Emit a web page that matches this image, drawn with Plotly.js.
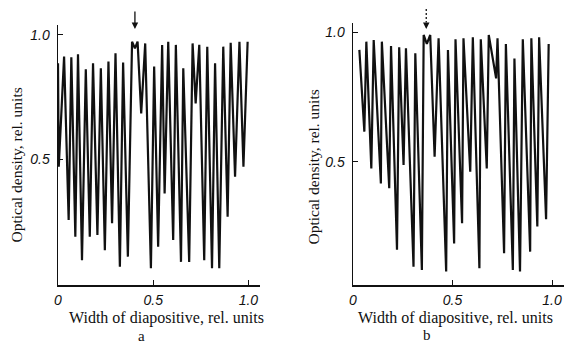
<!DOCTYPE html>
<html>
<head>
<meta charset="utf-8">
<script src="https://cdn.plot.ly/plotly-3.0.1.min.js"></script>
<style>html,body{margin:0;padding:0;background:#fff;}#chart{width:564px;height:346px;}</style>
</head>
<body>
<div id="chart"></div>
<script>
// Panel a: optical density profile
var xA = [0.000, 0.004, 0.032, 0.056, 0.070, 0.091, 0.105, 0.126, 0.146, 0.167, 0.184, 0.207, 0.225, 0.246, 0.265, 0.284, 0.302, 0.325, 0.342, 0.367, 0.389, 0.404, 0.418, 0.437, 0.458, 0.488, 0.505, 0.526, 0.547, 0.560, 0.579, 0.605, 0.619, 0.646, 0.658, 0.689, 0.707, 0.723, 0.742, 0.768, 0.784, 0.809, 0.825, 0.847, 0.868, 0.891, 0.907, 0.930, 0.953, 0.974, 0.996];
var yA = [0.886, 0.470, 0.913, 0.256, 0.910, 0.189, 0.922, 0.095, 0.862, 0.189, 0.886, 0.196, 0.866, 0.135, 0.893, 0.243, 0.926, 0.068, 0.889, 0.109, 0.973, 0.946, 0.973, 0.685, 0.966, 0.062, 0.873, 0.149, 0.960, 0.363, 0.973, 0.176, 0.960, 0.088, 0.866, 0.088, 0.966, 0.725, 0.960, 0.095, 0.953, 0.062, 0.886, 0.062, 0.953, 0.269, 0.969, 0.430, 0.973, 0.470, 0.973];

// Panel b
var xB = [0.032, 0.057, 0.067, 0.092, 0.104, 0.140, 0.145, 0.182, 0.191, 0.221, 0.232, 0.254, 0.266, 0.304, 0.313, 0.346, 0.355, 0.371, 0.388, 0.410, 0.430, 0.468, 0.477, 0.508, 0.515, 0.548, 0.555, 0.589, 0.602, 0.635, 0.642, 0.672, 0.682, 0.719, 0.726, 0.759, 0.768, 0.803, 0.811, 0.839, 0.853, 0.890, 0.896, 0.926, 0.935, 0.970, 0.983];
var yB = [0.932, 0.616, 0.964, 0.474, 0.970, 0.416, 0.964, 0.397, 0.947, 0.159, 0.942, 0.487, 0.938, 0.094, 0.919, 0.081, 0.990, 0.955, 0.990, 0.519, 0.977, 0.075, 0.932, 0.184, 0.973, 0.262, 0.977, 0.461, 0.981, 0.088, 0.973, 0.474, 0.990, 0.822, 0.977, 0.146, 0.955, 0.081, 0.899, 0.075, 0.973, 0.152, 0.977, 0.249, 0.981, 0.277, 0.955];

var xTickVals = [0, 0.5, 1.0];
var xTickText = ['0', '0.5', '1.0'];
var yTickVals = [0.5, 1.0];
var yTickText = ['0.5', '1.0'];
var arrowA = 0.404, arrowB = 0.368;
var xTitle = 'Width of diapositive, rel. units';
var yTitle = 'Optical density, rel. units';

var serif = 'Liberation Serif, Times New Roman, serif';
var tickFont = {family: 'Liberation Sans, Arial, sans-serif', size: 14, color: '#111', style: 'italic'};

function axisX(dom, rng, anchor) {
  return {domain: dom, range: rng, anchor: anchor, showgrid: false, zeroline: false,
    showline: true, linecolor: '#111', linewidth: 1.5, ticks: 'inside', ticklen: 5, tickwidth: 1, tickcolor: '#111',
    tickvals: xTickVals, ticktext: xTickText, tickfont: tickFont, ticklabelstandoff: 2, fixedrange: true};
}
function axisY(dom, rng, anchor) {
  return {domain: dom, range: rng, anchor: anchor, showgrid: false, zeroline: false,
    showline: true, linecolor: '#111', linewidth: 1.5, ticks: 'inside', ticklen: 5, tickwidth: 1, tickcolor: '#111',
    tickvals: yTickVals, ticktext: yTickText, tickfont: tickFont, ticklabelstandoff: 4, fixedrange: true};
}

var traces = [
  {x: xA, y: yA, type: 'scatter', mode: 'lines', line: {color: '#111', width: 2.2}, xaxis: 'x', yaxis: 'y', hoverinfo: 'skip'},
  {x: xB, y: yB, type: 'scatter', mode: 'lines', line: {color: '#111', width: 2.2}, xaxis: 'x2', yaxis: 'y2', hoverinfo: 'skip'}
];

function px2py(p) { return (346 - p) / 346; }
function px2px(p) { return p / 564; }

function label(t, x, y, ang, size) {
  return {text: t, xref: 'paper', yref: 'paper', x: px2px(x), y: px2py(y), xanchor: 'center', yanchor: 'middle',
    textangle: ang || 0, showarrow: false, font: {family: serif, size: size, color: '#111'}};
}

var ann = [
  label(xTitle, 166.5, 318, 0, 16),
  label(xTitle, 456, 318, 0, 16),
  label(yTitle, 15.5, 165, -90, 15.5),
  label(yTitle, 313.5, 167, -90, 15.5),
  label('a', 141, 336, 0, 15),
  label('b', 427, 335, 0, 15),
  {text: '', xref: 'x', yref: 'paper', x: arrowA, y: px2py(29), showarrow: true, ax: 0, ay: -19, arrowhead: 2, arrowsize: 1, arrowwidth: 1.3, arrowcolor: '#111'},
  {text: '', xref: 'x2', yref: 'paper', x: arrowB, y: px2py(29), showarrow: true, ax: 0, ay: -8, arrowhead: 2, arrowsize: 1, arrowwidth: 1.3, arrowcolor: '#111'}
];

var shapes = [
  {type: 'line', xref: 'x2', yref: 'paper', x0: arrowB, x1: arrowB, y0: px2py(9), y1: px2py(22), line: {color: '#111', width: 1.3, dash: '2px,2px'}}
];

var layout = {
  width: 564, height: 346,
  margin: {l: 0, r: 0, t: 0, b: 0},
  paper_bgcolor: '#fff', plot_bgcolor: '#fff',
  showlegend: false,
  xaxis: axisX([58/564, 260/564], [0, 1.061], 'y'),
  yaxis: axisY([(346-285)/346, (346-25)/346], [-0.005, 1.040], 'x'),
  xaxis2: axisX([353/564, 1.0], [0, 1.06], 'y2'),
  yaxis2: axisY([(346-285)/346, (346-23.3)/346], [0.023, 1.035], 'x2'),
  annotations: ann,
  shapes: shapes
};

Plotly.newPlot('chart', traces, layout, {displayModeBar: false, staticPlot: true});
</script>
</body>
</html>
